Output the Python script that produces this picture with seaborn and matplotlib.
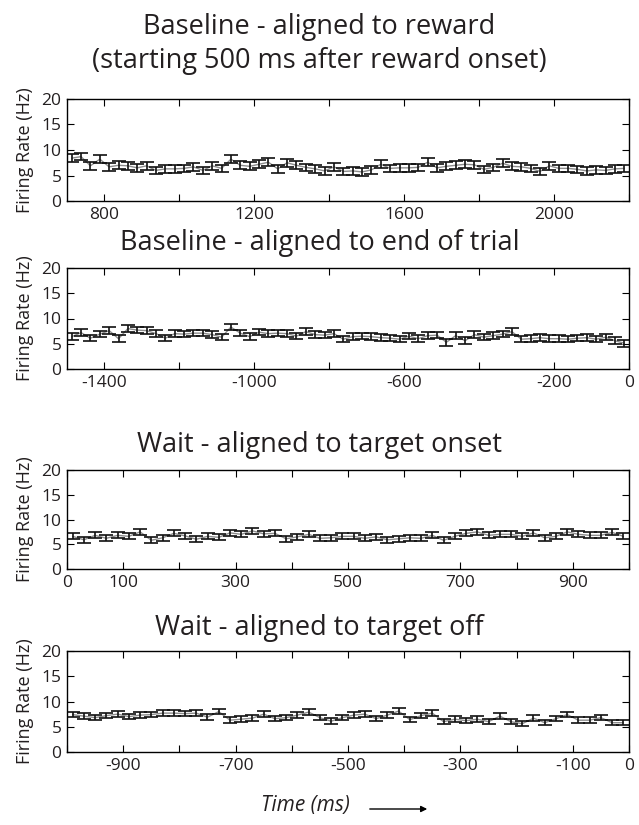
import matplotlib
matplotlib.use('Agg')
import matplotlib.pyplot as plt
from matplotlib.patches import FancyArrowPatch
import seaborn as sns
import numpy as np
import pandas as pd

sns.set_style('ticks')
plt.rcParams['font.family'] = ['Open Sans', 'DejaVu Sans']
plt.rcParams.update({
    'xtick.direction': 'in',
    'ytick.direction': 'in',
    'xtick.top': True,
    'ytick.right': True,
    'xtick.major.size': 5,
    'ytick.major.size': 5,
    'axes.linewidth': 1.0,
    'axes.edgecolor': 'black',
    'xtick.color': 'black',
    'ytick.color': 'black',
    'text.color': '#231f20',
    'axes.labelcolor': '#231f20',
})

# panel titles
titles = ['Baseline - aligned to reward\n(starting 500 ms after reward onset)',
          'Baseline - aligned to end of trial',
          'Wait - aligned to target onset',
          'Wait - aligned to target off']

# time bins (ms)
t_reward = np.arange(712.5, 2200, 25)
t_end = np.arange(-1487.5, 0, 25)
t_onset = np.arange(10, 1000, 20)
t_off = np.arange(-990, 0, 20)

# mean firing rate (Hz)
rate_reward = [8.4, 8.7, 6.9, 8.2, 6.7, 7.0, 6.9, 6.5, 6.9, 6.0,
               6.3, 6.3, 6.4, 6.7, 6.0, 6.9, 6.4, 8.2, 7.0, 6.8,
               7.2, 7.6, 6.3, 7.5, 7.0, 6.6, 6.3, 5.9, 6.7, 5.8,
               5.9, 5.7, 6.1, 7.2, 6.4, 6.5, 6.5, 6.6, 7.6, 6.5,
               6.8, 7.0, 7.2, 7.1, 6.2, 6.6, 7.4, 6.8, 6.7, 6.4,
               5.8, 6.9, 6.4, 6.4, 6.2, 5.9, 6.1, 6.0, 6.3, 6.4]
rate_end = [6.4, 7.2, 6.1, 6.9, 7.6, 6.0, 8.0, 7.7, 7.6, 7.0,
            6.1, 7.0, 6.9, 7.1, 7.1, 6.8, 6.3, 8.3, 7.1, 6.4,
            7.3, 7.0, 7.1, 7.0, 6.5, 7.4, 6.8, 6.7, 7.0, 5.9,
            6.4, 6.5, 6.4, 6.2, 6.1, 5.9, 6.5, 6.0, 6.6, 6.7,
            5.3, 6.6, 5.6, 6.8, 6.3, 6.6, 6.9, 7.4, 5.9, 6.0,
            6.2, 6.0, 6.0, 5.9, 6.1, 6.2, 5.9, 6.3, 5.6, 5.1]
rate_onset = [6.6, 5.9, 6.8, 6.2, 6.8, 6.6, 7.5, 5.8, 6.3, 7.2,
              6.7, 6.0, 6.6, 6.4, 7.3, 7.0, 7.7, 7.1, 7.2, 6.1,
              6.5, 7.0, 6.2, 6.3, 6.6, 6.6, 6.2, 6.5, 5.9, 6.1,
              6.3, 6.2, 6.8, 5.8, 6.6, 7.2, 7.5, 6.8, 7.0, 7.0,
              6.6, 7.3, 6.3, 6.6, 7.5, 7.0, 6.8, 6.8, 7.4, 6.6]
rate_off = [7.4, 7.1, 6.8, 7.2, 7.5, 7.0, 7.3, 7.4, 7.7, 7.7,
            7.6, 7.7, 6.9, 8.0, 6.3, 6.5, 6.7, 7.5, 6.6, 6.8,
            7.3, 7.9, 6.8, 6.1, 6.8, 7.3, 7.5, 6.6, 7.3, 8.1,
            6.4, 7.2, 7.7, 6.0, 6.5, 6.2, 6.5, 6.0, 7.1, 6.0,
            5.6, 6.7, 5.8, 6.6, 7.4, 6.3, 6.3, 6.8, 5.8, 5.8]

# standard error (Hz), roughly constant per panel
sem = [0.75, 0.65, 0.6, 0.55]

xlims = [(700, 2200), (-1500, 0), (0, 1000), (-1000, 0)]
xticks = [np.arange(800, 2201, 200), np.arange(-1400, 1, 200),
          np.arange(0, 1001, 100), np.arange(-1000, 1, 100)]
xlabels_shown = [[800, 1200, 1600, 2000], [-1400, -1000, -600, -200, 0],
                 [0, 100, 300, 500, 700, 900], [-900, -700, -500, -300, -100, 0]]

times = [t_reward, t_end, t_onset, t_off]
rates = [rate_reward, rate_end, rate_onset, rate_off]

fig = plt.figure(figsize=(6.39, 8.25), dpi=100)
W, H = 639, 825
# axes boxes in pixels: top, bottom
boxes = [(99, 201), (268, 369), (470, 569), (651, 752)]
title_y = [44, 243, 445, 628]
left_px, right_px = 67, 629

for k in range(4):
    top, bot = boxes[k]
    ax = fig.add_axes([left_px / W, 1 - bot / H, (right_px - left_px) / W, (bot - top) / H])
    df = pd.DataFrame({'time': times[k], 'rate': rates[k]})
    sns.lineplot(data=df, x='time', y='rate', ax=ax, color='#8c8c8c', linewidth=1.0)
    ax.errorbar(df['time'], df['rate'], yerr=sem[k], fmt='none', ecolor='#111111',
                elinewidth=1.2, capsize=5, capthick=1.2)
    ax.set_xlim(*xlims[k])
    ax.set_ylim(0, 20)
    ax.set_yticks([0, 5, 10, 15, 20])
    ax.set_xticks(xticks[k])
    ax.set_xticklabels([str(v) if v in xlabels_shown[k] else '' for v in xticks[k]])
    ax.tick_params(labelsize=12.5, pad=4, labelcolor='#231f20')
    ax.set_xlabel('')
    ax.set_ylabel('Firing Rate (Hz)', fontsize=13, labelpad=5)
    fig.text(0.5, 1 - title_y[k] / H, titles[k], ha='center', va='center',
             fontsize=19.5, linespacing=1.3)

fig.text(0.478, 1 - 806 / H, 'Time (ms)', ha='center', va='center',
         fontsize=15, style='italic')
fig.add_artist(FancyArrowPatch(
    (367 / W, 1 - 809 / H), (430 / W, 1 - 809 / H),
    transform=fig.transFigure, arrowstyle='-|>', mutation_scale=9,
    color='black', linewidth=1.0))

fig.savefig('out.png', dpi=100)
